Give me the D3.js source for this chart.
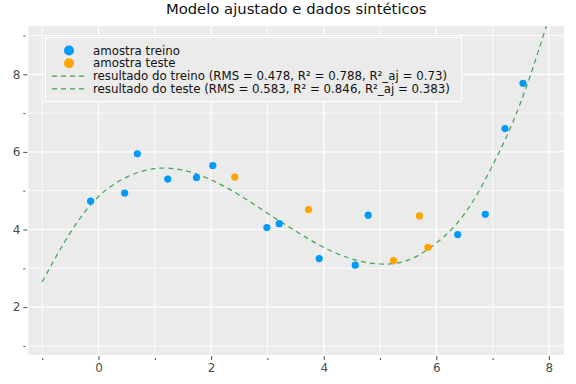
<!DOCTYPE html>
<html>
<head>
<meta charset="utf-8">
<script src="https://cdn.jsdelivr.net/npm/d3@7"></script>
<style>
  html, body { margin: 0; padding: 0; background: #fff; }
  svg { display: block; font-family: "DejaVu Sans", sans-serif; }
</style>
</head>
<body>
<script>
// training sample
const trainX = [-0.14, 0.465, 0.69, 1.23, 1.74, 2.03, 2.99, 3.21, 3.92, 4.56, 4.79, 6.38, 6.87, 7.22, 7.54];
const trainY = [4.73, 4.94, 5.95, 5.30, 5.34, 5.65, 4.05, 4.15, 3.25, 3.08, 4.37, 3.87, 4.39, 6.60, 7.77];
// test sample
const testX = [2.42, 3.73, 5.24, 5.70, 5.85];
const testY = [5.35, 4.51, 3.20, 4.35, 3.54];
// fitted model
const fitX = [-1, -0.5, 0, 0.5, 1, 1.5, 2, 2.5, 3, 3.5, 4, 4.5, 5, 5.5, 6, 6.5, 7, 7.5, 8];
const fitY = [2.65, 3.92, 4.85, 5.35, 5.57, 5.53, 5.28, 4.89, 4.42, 3.96, 3.54, 3.24, 3.11, 3.21, 3.65, 4.4, 5.65, 7.28, 9.45];

const title = "Modelo ajustado e dados sintéticos";
const legendLabels = [
  "amostra treino",
  "amostra teste",
  "resultado do treino (RMS = 0.478, R² = 0.788, R²_aj = 0.73)",
  "resultado do teste (RMS = 0.583, R² = 0.846, R²_aj = 0.383)"
];
const xTicks = [-1, 0, 1, 2, 3, 4, 5, 6, 7, 8];
const yTicks = [1, 2, 3, 4, 5, 6, 7, 8, 9];

const width = 576, height = 384;
const plotLeft = 28.3, plotRight = 564, plotTop = 26, plotBottom = 355;
const blue = "#009af9", orange = "#ffa500", green = "#3ea44e";

const x = d3.scaleLinear().domain([-1.247, 8.268]).range([plotLeft, plotRight]);
const y = d3.scaleLinear().domain([0.765, 9.245]).range([plotBottom, plotTop]);

const svg = d3.select("body")
  .append("svg")
  .attr("width", width)
  .attr("height", height);

svg.append("text")
  .attr("x", (plotLeft + plotRight) / 2)
  .attr("y", 13.5)
  .attr("text-anchor", "middle")
  .attr("font-size", 14.8)
  .attr("fill", "#111")
  .text(title);

svg.append("defs")
  .append("clipPath")
  .attr("id", "clip")
  .append("rect")
  .attr("x", plotLeft)
  .attr("y", plotTop)
  .attr("width", plotRight - plotLeft)
  .attr("height", plotBottom - plotTop);

svg.append("rect")
  .attr("x", plotLeft)
  .attr("y", plotTop)
  .attr("width", plotRight - plotLeft)
  .attr("height", plotBottom - plotTop)
  .attr("fill", "#ebebeb");

// grid
const isMajor = (v) => v % 2 === 0;
svg.append("g")
  .selectAll("line")
  .data(xTicks)
  .join("line")
  .attr("x1", (d) => x(d)).attr("x2", (d) => x(d))
  .attr("y1", plotTop).attr("y2", plotBottom)
  .attr("stroke", "#fff")
  .attr("stroke-width", (d) => isMajor(d) ? 1.2 : 0.8);
svg.append("g")
  .selectAll("line")
  .data(yTicks)
  .join("line")
  .attr("y1", (d) => y(d)).attr("y2", (d) => y(d))
  .attr("x1", plotLeft).attr("x2", plotRight)
  .attr("stroke", "#fff")
  .attr("stroke-width", (d) => isMajor(d) ? 1.2 : 0.8);

// axes
const xAxis = d3.axisBottom(x)
  .tickValues(xTicks)
  .tickSize(4)
  .tickPadding(3)
  .tickFormat((d) => isMajor(d) ? d : "");
const gx = svg.append("g")
  .attr("transform", `translate(0,${plotBottom + 1})`)
  .call(xAxis);

const yAxis = d3.axisLeft(y)
  .tickValues(yTicks)
  .tickSize(4)
  .tickPadding(3)
  .tickFormat((d) => isMajor(d) ? d : "");
const gy = svg.append("g")
  .attr("transform", `translate(${plotLeft - 1},0)`)
  .call(yAxis);

for (const g of [gx, gy]) {
  g.select(".domain").remove();
  g.selectAll(".tick line")
    .attr("stroke", "#4d4d4d")
    .attr("stroke-width", 1)
    .filter((d) => !isMajor(d))
    .attr("stroke-dasharray", "0,2,2");
  g.selectAll(".tick text")
    .attr("font-family", "DejaVu Sans")
    .attr("font-size", 12)
    .attr("fill", "#4d4d4d");
}

// fitted curve
const fit = fitX.map((v, i) => [v, fitY[i]]);
svg.append("path")
  .datum(fit)
  .attr("clip-path", "url(#clip)")
  .attr("fill", "none")
  .attr("stroke", green)
  .attr("stroke-width", 1.2)
  .attr("stroke-dasharray", "5,4")
  .attr("d", d3.line().x((d) => x(d[0])).y((d) => y(d[1])).curve(d3.curveNatural));

// points
const points = svg.append("g").attr("clip-path", "url(#clip)");
points.selectAll(".train")
  .data(trainX.map((v, i) => [v, trainY[i]]))
  .join("circle")
  .attr("class", "train")
  .attr("cx", (d) => x(d[0]))
  .attr("cy", (d) => y(d[1]))
  .attr("r", 3.6)
  .attr("fill", blue);
points.selectAll(".test")
  .data(testX.map((v, i) => [v, testY[i]]))
  .join("circle")
  .attr("class", "test")
  .attr("cx", (d) => x(d[0]))
  .attr("cy", (d) => y(d[1]))
  .attr("r", 3.6)
  .attr("fill", orange);

// legend
const legend = svg.append("g");
legend.append("rect")
  .attr("x", 45.5)
  .attr("y", 37.5)
  .attr("width", 416)
  .attr("height", 64)
  .attr("fill", "#ebebeb")
  .attr("stroke", "#fff")
  .attr("stroke-width", 1);

const rowY = [50.5, 63.3, 76.1, 88.9];
const row = legend.selectAll("g")
  .data(legendLabels)
  .join("g")
  .attr("transform", (d, i) => `translate(0,${rowY[i]})`);

row.filter((d, i) => i < 2)
  .append("circle")
  .attr("cx", 69)
  .attr("cy", 0)
  .attr("r", 5)
  .attr("fill", (d, i) => i === 0 ? blue : orange);

row.filter((d, i) => i >= 2)
  .append("line")
  .attr("x1", 52)
  .attr("x2", 85)
  .attr("stroke", green)
  .attr("stroke-width", 1.2)
  .attr("stroke-dasharray", "5,4");

row.append("text")
  .attr("x", 93)
  .attr("dy", "0.35em")
  .attr("font-size", 11.8)
  .attr("fill", "#111")
  .text((d) => d);
</script>
</body>
</html>
